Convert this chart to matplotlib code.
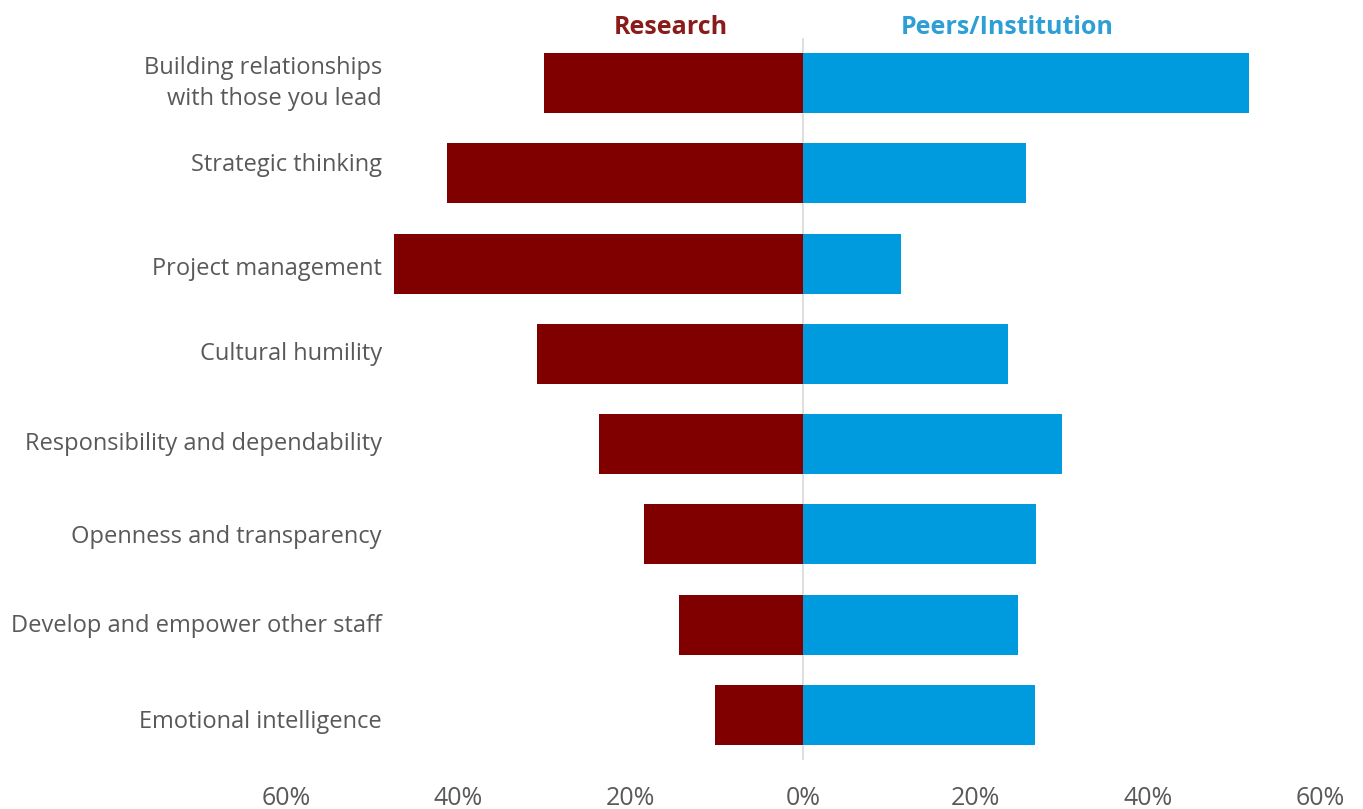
import matplotlib.pyplot as plt
from matplotlib.ticker import FixedLocator, FuncFormatter
from matplotlib.transforms import offset_copy

skills = [
    "Building relationships\nwith those you lead",
    "Strategic thinking",
    "Project management",
    "Cultural humility",
    "Responsibility and dependability",
    "Openness and transparency",
    "Develop and empower other staff",
    "Emotional intelligence",
]
research = [30.0, 41.3, 47.5, 30.9, 23.7, 18.5, 14.4, 10.2]
peers = [51.7, 25.9, 11.4, 23.8, 30.0, 27.0, 24.9, 26.9]
x_ticks = [-60, -40, -20, 0, 20, 40, 60]

RED = "#800000"
BLUE = "#009ADE"
GREY = "#595959"

# small vertical nudges (in points, + is down) for the category names
label_nudge = [0, -6, 4, 0, 0, 2, 1, 5]


def plot():
    plt.rcParams["font.family"] = ["Open Sans", "DejaVu Sans"]
    fig = plt.figure(figsize=(13.63, 8.09), dpi=100)
    ax = fig.add_axes([0.2098, 0.0606, 0.7587, 0.8924])

    pos = range(len(skills))
    ax.barh(pos, [-v for v in research], height=0.667, color=RED)
    ax.barh(pos, peers, height=0.667, color=BLUE)
    ax.axvline(0, color="#d9d9d9", lw=1.2, zorder=0)

    ax.set_xlim(-60, 60)
    ax.set_ylim(len(skills) - 0.5, -0.5)

    ax.xaxis.set_major_locator(FixedLocator(x_ticks))
    ax.xaxis.set_major_formatter(FuncFormatter(lambda v, _: f"{abs(v):.0f}%"))
    ax.tick_params(axis="x", length=0, pad=19, labelsize=18, labelcolor=GREY)
    ax.set_yticks([])
    for s in ax.spines.values():
        s.set_visible(False)

    # category names sit just left of the longest red bar
    for i, name in enumerate(skills):
        tr = offset_copy(ax.get_yaxis_transform(), fig=fig,
                         y=-label_nudge[i], units="points")
        ax.text(0.0928, i, name, transform=tr,
                ha="right", va="center", fontsize=17, color=GREY,
                linespacing=1.4)

    ax.text(-15.3, -0.622, "Research", ha="center", va="center",
            fontsize=18, fontweight="bold", color="#8B1A1A")
    ax.text(23.7, -0.622, "Peers/Institution", ha="center", va="center",
            fontsize=18, fontweight="bold", color="#2E9FD6")

    fig.savefig("out.png", dpi=100)


if __name__ == "__main__":
    plot()
